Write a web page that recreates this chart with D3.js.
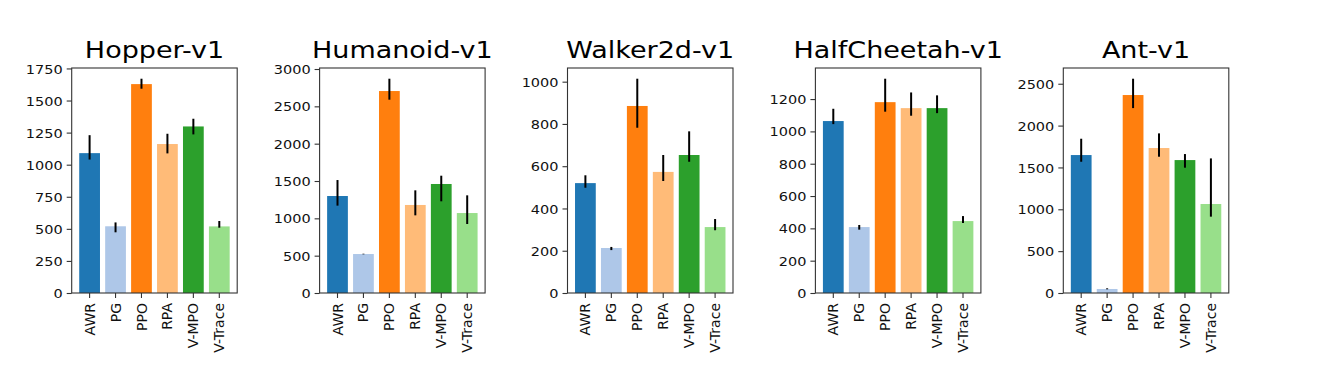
<!DOCTYPE html>
<html><head><meta charset="utf-8">
<script src="https://cdn.jsdelivr.net/npm/d3@7"></script>
<style>body{margin:0;background:#fff}</style></head>
<body><svg id="c" width="1330" height="384"></svg>
<script>
const methods = ["AWR", "PG", "PPO", "RPA", "V-MPO", "V-Trace"];
const colors = ["#1f77b4", "#aec7e8", "#ff7f0e", "#ffbb78", "#2ca02c", "#98df8a"];
const envs = ["Hopper-v1", "Humanoid-v1", "Walker2d-v1", "HalfCheetah-v1", "Ant-v1"];

const hopperMean = [1090, 520, 1628, 1161, 1298, 519];
const hopperLow  = [1040, 473, 1592, 1088, 1236, 509];
const hopperHigh = [1230, 550, 1670, 1241, 1358, 561];
const hopperTicks = [0, 250, 500, 750, 1000, 1250, 1500, 1750];

const humanoidMean = [1299, 522, 2705, 1179, 1460, 1071];
const humanoidLow  = [1170, 518, 2589, 1040, 1228, 924];
const humanoidHigh = [1513, 526, 2870, 1375, 1571, 1308];
const humanoidTicks = [0, 500, 1000, 1500, 2000, 2500, 3000];

const walkerMean = [520, 213, 885, 573, 653, 312];
const walkerLow  = [498, 203, 782, 530, 621, 297];
const walkerHigh = [557, 218, 1014, 653, 765, 350];
const walkerTicks = [0, 200, 400, 600, 800, 1000];

const cheetahMean = [1064, 408, 1181, 1144, 1144, 445];
const cheetahLow  = [1045, 392, 1122, 1097, 1113, 433];
const cheetahHigh = [1140, 421, 1326, 1241, 1223, 476];
const cheetahTicks = [0, 200, 400, 600, 800, 1000, 1200];

const antMean = [1648, 48, 2365, 1732, 1588, 1063];
const antLow  = [1568, 44, 2209, 1628, 1497, 912];
const antHigh = [1843, 56, 2560, 1907, 1660, 1608];
const antTicks = [0, 500, 1000, 1500, 2000, 2500];

const panels = [
  {title: envs[0], mean: hopperMean, low: hopperLow, high: hopperHigh, ticks: hopperTicks},
  {title: envs[1], mean: humanoidMean, low: humanoidLow, high: humanoidHigh, ticks: humanoidTicks},
  {title: envs[2], mean: walkerMean, low: walkerLow, high: walkerHigh, ticks: walkerTicks},
  {title: envs[3], mean: cheetahMean, low: cheetahLow, high: cheetahHigh, ticks: cheetahTicks},
  {title: envs[4], mean: antMean, low: antLow, high: antHigh, ticks: antTicks}
];

const svg = d3.select("#c");
const font = "DejaVu Sans";
const axTop = 68, axBottom = 293, axW = 165.5, left0 = 71.7, gap = 247.9;
const vs = 0.88; // vertical text squish

panels.forEach((p, i) => {
  const x0 = left0 + i * gap;
  const g = svg.append("g");
  const x = d3.scaleBand().domain(methods).range([x0, x0 + axW]).paddingInner(0.2).paddingOuter(0.29);
  const y = d3.scaleLinear().domain([0, d3.max(p.high) * 1.05]).range([axBottom, axTop]);

  g.selectAll("rect.bar").data(methods).join("rect")
    .attr("x", d => x(d)).attr("width", x.bandwidth())
    .attr("y", (d, j) => y(p.mean[j])).attr("height", (d, j) => y(0) - y(p.mean[j]))
    .attr("fill", (d, j) => colors[j]);

  g.selectAll("line.err").data(methods).join("line")
    .attr("x1", d => x(d) + x.bandwidth() / 2).attr("x2", d => x(d) + x.bandwidth() / 2)
    .attr("y1", (d, j) => y(p.low[j])).attr("y2", (d, j) => y(p.high[j]))
    .attr("stroke", "#000").attr("stroke-width", 2);

  g.append("rect").attr("x", x0).attr("y", axTop).attr("width", axW).attr("height", axBottom - axTop)
    .attr("fill", "none").attr("stroke", "#333").attr("stroke-width", 1.1);

  const ya = g.append("g").attr("transform", `translate(${x0},0)`)
    .call(d3.axisLeft(y).tickValues(p.ticks).tickSize(5).tickPadding(4).tickFormat(d3.format("d")));
  ya.select(".domain").remove();
  ya.selectAll(".tick line").attr("stroke", "#333").attr("stroke-width", 1.1);
  ya.selectAll(".tick text").attr("font-family", font).attr("font-size", 14.5).attr("fill", "#111")
    .each(function() {
      const t = d3.select(this);
      const tx = +t.attr("x");
      t.attr("x", null).attr("dy", "0.36em")
       .attr("transform", `translate(${tx},0) scale(1,${vs})`);
    });

  const xa = g.append("g").attr("transform", `translate(0,${axBottom})`)
    .call(d3.axisBottom(x).tickSize(5).tickSizeOuter(0));
  xa.select(".domain").remove();
  xa.selectAll(".tick line").attr("stroke", "#333").attr("stroke-width", 1.1);
  xa.selectAll(".tick text").attr("font-family", font).attr("font-size", 14).attr("fill", "#111")
    .attr("y", null).attr("x", null).attr("dy", "0.36em").attr("text-anchor", "end")
    .attr("transform", `translate(0,10) rotate(-90)`);

  g.append("text").text(p.title)
    .attr("font-family", font).attr("font-size", 27).attr("fill", "#000")
    .attr("text-anchor", "middle")
    .attr("transform", `translate(${x0 + axW / 2},${axTop - 10.5}) scale(1,${vs})`);
});
</script></body></html>
